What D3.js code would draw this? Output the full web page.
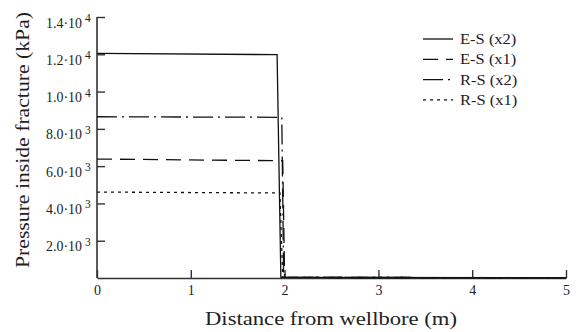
<!DOCTYPE html>
<html><head><meta charset="utf-8">
<script src="https://cdn.jsdelivr.net/npm/d3@7"></script>
<style>body{margin:0;background:#fff}svg{display:block}text{font-family:"Liberation Serif","Times New Roman",serif;fill:#222}</style>
</head><body><svg id="c" width="577" height="332"></svg>
<script>
const seriesNames = ["E-S (x2)", "E-S (x1)", "R-S (x2)", "R-S (x1)"];
const esx2X = [0, 1.92, 1.96, 2.0, 5];
const esx2Y = [12050, 11980, 30, 30, 20];
const esx1X = [0, 1.98, 2.0, 2.02, 5];
const esx1Y = [6380, 6290, 40, 30, 20];
const rsx2X = [0, 1.97, 1.99, 2.01, 5];
const rsx2Y = [8650, 8620, 40, 30, 20];
const rsx1X = [0, 1.95, 1.98, 2.0, 5];
const rsx1Y = [4610, 4560, 40, 30, 20];
const xTicks = [0, 1, 2, 3, 4, 5];
const yTicks = [2000, 4000, 6000, 8000, 10000, 12000, 14000];
const yTickMant = ["2.0", "4.0", "6.0", "8.0", "1.0", "1.2", "1.4"];
const yTickExp = ["3", "3", "3", "3", "4", "4", "4"];
const dashes = [null, "15,8", "20,5,2,5", "3,4"];

const svg = d3.select("#c");
const x = d3.scaleLinear().domain([0, 5]).range([97, 566]);
const y = d3.scaleLinear().domain([0, 14000]).range([278, 17]);

function stretch(sel, f) {
  sel.each(function () {
    const w = this.getComputedTextLength();
    d3.select(this).attr("textLength", w * f).attr("lengthAdjust", "spacingAndGlyphs");
  });
  return sel;
}

// axes
const ax = svg.append("g").attr("transform", "translate(0,278)")
  .call(d3.axisBottom(x).tickValues(xTicks).tickSize(-8).tickSizeOuter(0).tickFormat(d3.format("d")));
ax.select(".domain").attr("stroke", "#333").attr("stroke-width", 1.6);
ax.selectAll(".tick line").attr("stroke", "#333").attr("stroke-width", 1.4);
ax.selectAll(".tick text").attr("font-size", 14).attr("font-family", '"Liberation Serif",serif')
  .attr("fill", "#222").attr("y", 17).attr("dy", 0);

const ay = svg.append("g").attr("transform", "translate(97,0)")
  .call(d3.axisLeft(y).tickValues(yTicks).tickSize(-8).tickSizeOuter(0).tickFormat(() => ""));
ay.select(".domain").attr("stroke", "#333").attr("stroke-width", 1.6).attr("d", `M0,${y(0)}V${y(14000)}`);
ay.selectAll(".tick line").attr("stroke", "#333").attr("stroke-width", 1.4);
ay.selectAll(".tick text").remove();
yTicks.forEach((v, i) => {
  svg.append("text").attr("x", 82).attr("y", y(v) + 10.5).attr("text-anchor", "end").attr("font-size", 14)
    .attr("textLength", 36).attr("lengthAdjust", "spacingAndGlyphs").text(yTickMant[i] + "·10");
  svg.append("text").attr("x", 85).attr("y", y(v) + 5).attr("font-size", 11.5).text(yTickExp[i]);
});

// curves
const xs = [esx2X, esx1X, rsx2X, rsx1X];
const ys = [esx2Y, esx1Y, rsx2Y, rsx1Y];
const line = d3.line().x(d => x(d[0])).y(d => y(d[1]));
xs.forEach((xa, i) => {
  const pts = xa.map((v, j) => [v, ys[i][j]]);
  svg.append("path").attr("d", line(pts)).attr("fill", "none").attr("stroke", "#111")
    .attr("stroke-width", 1.3).attr("stroke-dasharray", dashes[i]);
});

// legend
seriesNames.forEach((n, i) => {
  const yy = 39 + i * 20.3;
  svg.append("line").attr("x1", 423).attr("x2", 453).attr("y1", yy).attr("y2", yy)
    .attr("stroke", "#111").attr("stroke-width", 1.3).attr("stroke-dasharray", dashes[i]);
  stretch(svg.append("text").attr("x", 460).attr("y", yy + 5).attr("font-size", 15).text(n), 1.1);
});

// titles
const xt = svg.append("text").attr("x", 331).attr("y", 325).attr("text-anchor", "middle").attr("font-size", 19.5).text("Distance from wellbore (m)");
xt.attr("textLength", 252).attr("lengthAdjust", "spacingAndGlyphs");
const yt = svg.append("text").attr("transform", "translate(29,140) rotate(-90)").attr("text-anchor", "middle").attr("font-size", 19.5).text("Pressure inside fracture (kPa)");
yt.attr("textLength", 256).attr("lengthAdjust", "spacingAndGlyphs");
</script></body></html>
